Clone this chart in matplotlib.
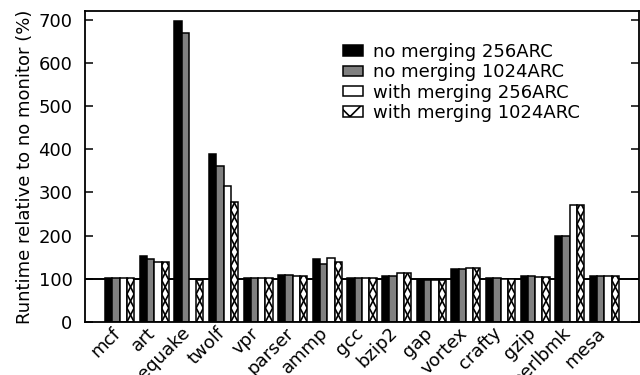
import numpy as np
import matplotlib
matplotlib.use("Agg")
import matplotlib.pyplot as plt
import matplotlib.transforms as mtransforms
from matplotlib.patches import Patch

plt.rcParams['font.family'] = ['DejaVu Sans']
plt.rcParams['hatch.linewidth'] = 1.2

benchmarks = ["mcf", "art", "equake", "twolf", "vpr", "parser", "ammp", "gcc",
              "bzip2", "gap", "vortex", "crafty", "gzip", "perlbmk", "mesa"]

no_merge_256 = [101, 153, 697, 390, 103, 108, 145, 103, 107, 98, 123, 101, 106, 198, 107]
no_merge_1024 = [101, 147, 668, 362, 103, 108, 134, 103, 106, 98, 123, 101, 106, 198, 107]
merge_256 = [101, 140, 0, 315, 103, 106, 148, 102, 114, 97, 125, 100, 105, 270, 107]
merge_1024 = [101, 139, 98, 278, 102, 106, 138, 102, 114, 97, 125, 100, 105, 270, 107]

series_labels = ["no merging 256ARC", "no merging 1024ARC",
                 "with merging 256ARC", "with merging 1024ARC"]
yticks = [0, 100, 200, 300, 400, 500, 600, 700]

FS = 13

fig = plt.figure(figsize=(6.4, 3.75), dpi=100)
ax = fig.add_axes([85 / 640, 1 - 322 / 375, 554 / 640, 311 / 375])
ax.set_xlim(0, 16)
ax.set_ylim(0, 720)

x = np.arange(1, len(benchmarks) + 1)
w = 0.21
faces = ["black", "#808080", "white", "white"]
data = [no_merge_256, no_merge_1024, merge_256, merge_1024]
containers = []
for i, (vals, fc) in enumerate(zip(data, faces)):
    containers.append(ax.bar(x + (i - 1.5) * w, vals, width=w, color=fc,
                             edgecolor="black", linewidth=1.1))

# zigzag cross pattern inside the last series' bars
px_per_unit = ax.transData.transform((0, 1))[1] - ax.transData.transform((0, 0))[1]
period = 14.0 / px_per_unit
for rect in containers[3].patches:
    x0 = rect.get_x()
    x1 = x0 + rect.get_width()
    h = rect.get_height()
    if h <= 0:
        continue
    n = int(np.ceil(h / period)) + 1
    k = np.arange(n + 1)
    ys = k * period
    for xs in (np.where(k % 2 == 0, x0, x1), np.where(k % 2 == 0, x1, x0)):
        ln, = ax.plot(xs, ys, color="black", linewidth=1.2, zorder=1.5)
        ln.set_clip_path(rect)

ax.axhline(100, color="black", linewidth=1.4, zorder=0.5)

ax.set_yticks(yticks)
ax.set_xticks(x)
ax.set_xticklabels([])
label_tf = ax.get_xaxis_transform() + mtransforms.ScaledTranslation(
    -8 / 100, -2 / 100, fig.dpi_scale_trans)
for xi, name in zip(x, benchmarks):
    ax.text(xi, 0, name, transform=label_tf, rotation=45, ha="right", va="top",
            rotation_mode="anchor", fontsize=FS, clip_on=False)
ax.tick_params(axis="x", length=0)
ax.tick_params(axis="y", direction="in", length=6, width=1.1, labelsize=FS,
               right=True, pad=9)
for s in ax.spines.values():
    s.set_linewidth(1.3)

ax.set_ylabel("Runtime relative to no monitor (%)", fontsize=FS, labelpad=3)

handles = [Patch(facecolor=fc, edgecolor="black", linewidth=1.1) for fc in faces[:3]]
handles.append(Patch(facecolor="white", edgecolor="black", linewidth=1.1, hatch="x"))
ax.legend(handles, series_labels, loc="upper left",
          bbox_to_anchor=(343 / 640, 1 - 43 / 375),
          bbox_transform=fig.transFigure, frameon=False, fontsize=FS,
          handlelength=1.1, handleheight=0.5, handletextpad=0.55,
          labelspacing=0.13, borderpad=0, borderaxespad=0)

fig.savefig("out.png", dpi=100)
